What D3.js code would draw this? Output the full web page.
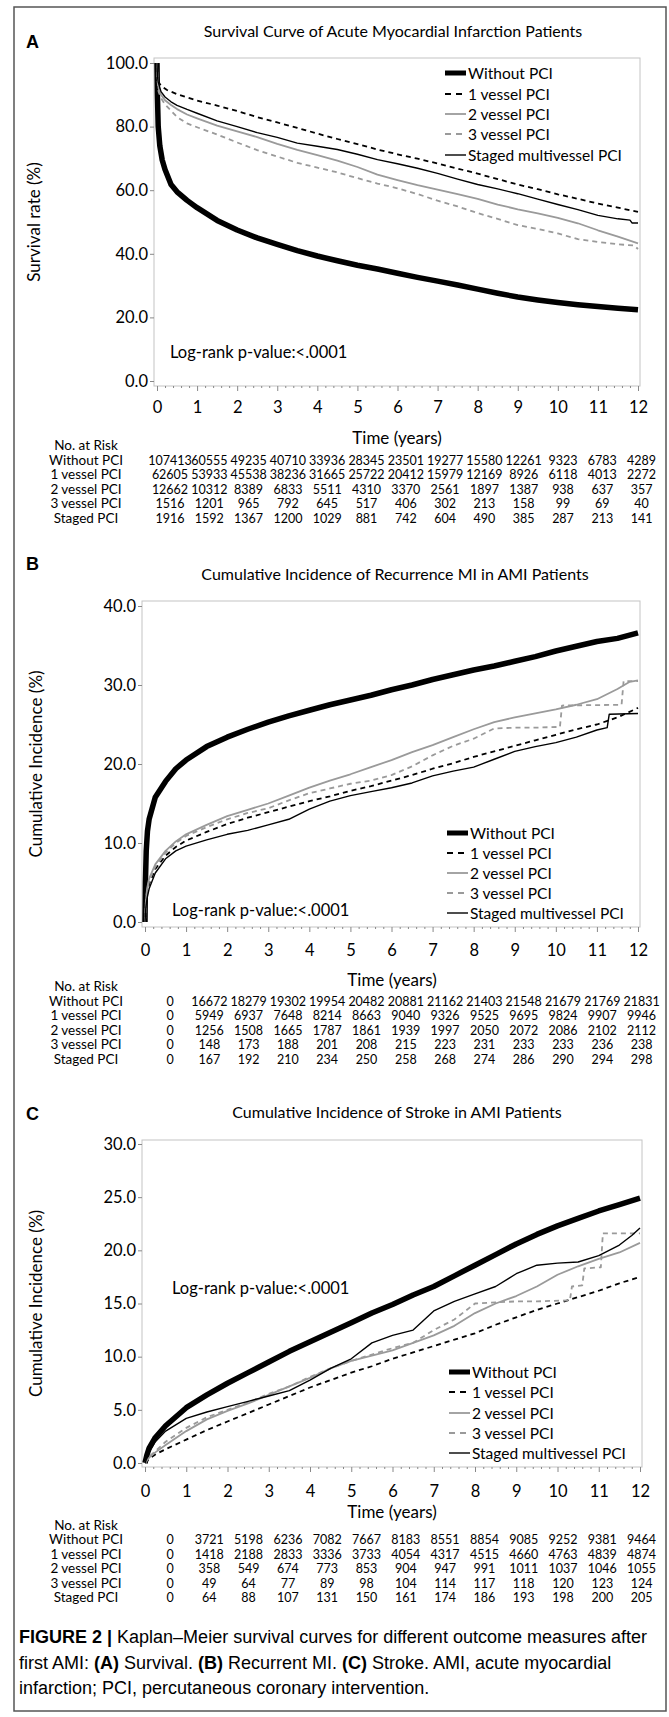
<!DOCTYPE html>
<html>
<head>
<meta charset="utf-8">
<script src="https://d3js.org/d3.v7.min.js"></script>
<style>
  body { margin: 0; background: #fff; }
  svg text { font-family: Lato, "Open Sans", sans-serif; fill: #000; }
</style>
</head>
<body>
<script>
// ---- data ----
const years = [0, 1, 2, 3, 4, 5, 6, 7, 8, 9, 10, 11, 12];
const seriesNames = ["Without PCI", "1 vessel PCI", "2 vessel PCI", "3 vessel PCI", "Staged multivessel PCI"];
const riskLabels = ["Without PCI", "1 vessel PCI", "2 vessel PCI", "3 vessel PCI", "Staged PCI"];

// Panel A: survival rate (%), [years, value]
const aWithout = [[0,100],[0.01,90],[0.03,80],[0.07,74],[0.13,69.5],[0.2,66.5],[0.35,61.8],[0.5,59.5],[0.75,56.8],[1,54.5],[1.5,50.5],[2,47.5],[2.5,45],[3,43],[3.5,41],[4,39.3],[4.5,37.8],[5,36.4],[5.5,35.2],[6,33.9],[6.5,32.6],[7,31.4],[7.5,30.2],[8,28.9],[8.5,27.6],[9,26.4],[9.5,25.5],[10,24.7],[10.5,24.0],[11,23.4],[11.5,22.9],[12,22.4]];
const aOne = [[0,100],[0.01,96],[0.04,94],[0.1,92.8],[0.25,91.5],[0.5,90.2],[1,88.2],[1.5,86.6],[2,84.9],[2.5,83.0],[3,81.3],[3.5,79.6],[4,77.8],[4.5,76.1],[5,74.5],[5.5,72.8],[6,71.3],[6.5,69.9],[7,68.4],[7.5,66.8],[8,65.2],[8.5,63.5],[9,61.8],[9.5,60.3],[10,58.7],[10.5,57.3],[11,55.8],[11.5,54.5],[12,53.2]];
const aTwo = [[0,100],[0.01,96],[0.04,92],[0.1,90],[0.2,88.3],[0.35,86.8],[0.5,85.5],[0.75,83.8],[1,82.6],[1.5,80.3],[2,78.5],[2.5,76.7],[3,74.6],[3.5,72.7],[4,71.0],[4.5,69.3],[5,67.3],[5.5,64.9],[6,63.2],[6.5,61.6],[7,60.2],[7.5,58.8],[8,57.3],[8.5,55.5],[9,54.0],[9.5,52.7],[10,51.3],[10.5,49.6],[11,47.4],[11.5,45.4],[12,43.3]];
const aThree = [[0,100],[0.01,95],[0.04,91],[0.1,89],[0.2,87],[0.35,85.0],[0.5,83.0],[0.75,81.0],[1,79.8],[1.5,77.5],[2,75.0],[2.5,72.6],[3,70.6],[3.5,68.6],[4,67.1],[4.5,65.6],[5,63.8],[5.5,62.1],[6,60.6],[6.5,58.8],[7,56.7],[7.5,54.9],[8,52.8],[8.5,51.0],[9,49.0],[9.5,47.8],[10,46.4],[10.5,44.6],[11,43.7],[11.5,43.0],[11.9,42.6],[12,41.5]];
const aStaged = [[0,100],[0.01,96],[0.03,94],[0.1,91],[0.2,89.3],[0.35,87.8],[0.5,86.7],[0.75,85.4],[1,84.2],[1.5,81.8],[2,80.0],[2.5,78.1],[3,76.6],[3.5,74.8],[4,73.8],[4.5,72.8],[5,71.3],[5.5,69.6],[6,68.3],[6.5,66.9],[7,65.3],[7.5,63.5],[8,61.8],[8.5,60.4],[9,58.9],[9.5,57.2],[10,55.5],[10.5,53.9],[11,52.1],[11.5,51.0],[11.8,50.6],[11.85,49.7],[12,49.7]];

// Panel B: cumulative incidence of recurrent MI (%)
const bWithout = [[0,0],[0.01,5],[0.03,9],[0.06,11.5],[0.1,13],[0.25,15.8],[0.5,17.8],[0.75,19.4],[1,20.5],[1.5,22.2],[2,23.4],[2.5,24.4],[3,25.3],[3.5,26.1],[4,26.8],[4.5,27.5],[5,28.1],[5.5,28.7],[6,29.4],[6.5,30.0],[7,30.7],[7.5,31.3],[8,31.9],[8.5,32.4],[9,33.0],[9.5,33.6],[10,34.3],[10.5,34.9],[11,35.5],[11.5,35.9],[12,36.6]];
const bOne = [[0,0],[0.02,2],[0.05,3.5],[0.1,4.8],[0.25,6.7],[0.5,8.4],[0.75,9.5],[1,10.3],[1.5,11.4],[2,12.4],[2.5,13.2],[3,13.9],[3.5,14.6],[4,15.3],[4.5,15.9],[5,16.6],[5.5,17.2],[6,17.9],[6.5,18.6],[7,19.4],[7.5,20.1],[8,20.9],[8.5,21.6],[9,22.3],[9.5,23.0],[10,23.7],[10.5,24.4],[11,25.0],[11.5,25.9],[12,27.1]];
const bTwo = [[0,0],[0.02,2.5],[0.05,4.2],[0.1,5.5],[0.25,7.3],[0.5,9.0],[0.75,10.2],[1,11.1],[1.5,12.3],[2,13.4],[2.5,14.2],[3,15.0],[3.5,16.0],[4,17.0],[4.5,17.9],[5,18.7],[5.5,19.6],[6,20.5],[6.5,21.5],[7,22.4],[7.5,23.4],[8,24.4],[8.5,25.3],[9,25.9],[9.5,26.4],[10,26.9],[10.5,27.5],[11,28.2],[11.5,29.5],[11.8,30.4],[12,30.6]];
const bThree = [[0,0],[0.02,2.3],[0.05,4],[0.1,5.2],[0.25,7.0],[0.5,8.8],[0.75,10.0],[1,10.9],[1.5,12.0],[2,13.0],[2.5,13.8],[3,14.4],[3.5,15.4],[4,16.3],[4.5,16.9],[5,17.5],[5.5,17.9],[6,18.6],[6.5,19.7],[7,21.1],[7.5,22.3],[8,23.2],[8.5,24.5],[9,24.6],[9.5,24.6],[10.1,24.7],[10.15,27.4],[11.6,27.5],[11.65,30.5],[12,30.5]];
const bStaged = [[0,0],[0.02,1.8],[0.05,3.0],[0.1,4.2],[0.25,6.2],[0.5,8.0],[0.75,9.0],[1,9.6],[1.5,10.4],[2,11.1],[2.5,11.6],[3,12.3],[3.5,13.0],[4,14.3],[4.5,15.3],[5,16.0],[5.5,16.5],[6,17.0],[6.5,17.6],[7,18.5],[7.5,19.1],[8,19.6],[8.5,20.6],[9,21.6],[9.5,22.2],[10,22.7],[10.5,23.4],[11,24.3],[11.25,24.6],[11.3,26.3],[12,26.4]];

// Panel C: cumulative incidence of stroke (%)
const cWithout = [[0,0],[0.05,0.8],[0.1,1.4],[0.25,2.4],[0.5,3.5],[1,5.2],[1.5,6.4],[2,7.5],[2.5,8.5],[3,9.5],[3.5,10.5],[4,11.4],[4.5,12.3],[5,13.2],[5.5,14.1],[6,14.9],[6.5,15.8],[7,16.6],[7.5,17.6],[8,18.6],[8.5,19.6],[9,20.6],[9.5,21.5],[10,22.3],[10.5,23.0],[11,23.7],[11.5,24.3],[12,24.9]];
const cOne = [[0,0],[0.1,0.4],[0.25,0.8],[0.5,1.3],[1,2.2],[1.5,3.1],[2,3.9],[2.5,4.7],[3,5.5],[3.5,6.3],[4,7.1],[4.5,7.8],[5,8.5],[5.5,9.1],[6,9.8],[6.5,10.4],[7,11.0],[7.5,11.6],[8,12.2],[8.5,13.0],[9,13.7],[9.5,14.4],[10,15.0],[10.5,15.6],[11,16.2],[11.5,16.9],[12,17.5]];
const cTwo = [[0,0],[0.1,0.5],[0.25,1.0],[0.5,1.7],[1,3.0],[1.5,4.1],[2,4.9],[2.5,5.6],[3,6.4],[3.5,7.2],[4,8.0],[4.5,8.9],[5,9.6],[5.5,10.1],[6,10.6],[6.5,11.3],[7,12.0],[7.5,12.9],[8,14.1],[8.5,15.0],[9,15.7],[9.5,16.6],[10,17.7],[10.5,18.5],[11,19.2],[11.5,19.8],[12,20.7]];
const cThree = [[0,0],[0.1,0.6],[0.25,1.1],[0.5,2.0],[1,3.3],[1.5,4.3],[2,5.0],[2.5,5.7],[3,6.5],[3.5,7.2],[4,8.1],[4.5,8.9],[5,9.6],[5.5,10.2],[6,10.8],[6.5,11.3],[7,12.5],[7.5,13.5],[8,15.0],[8.5,15.1],[9,15.2],[9.5,15.2],[10.3,15.3],[10.35,16.6],[10.6,16.7],[10.65,18.3],[11.05,18.4],[11.1,21.6],[12,21.6]];
const cStaged = [[0,0],[0.1,1.0],[0.25,2.0],[0.5,3.0],[1,4.2],[1.5,4.8],[2,5.3],[2.5,5.8],[3,6.3],[3.5,6.8],[4,7.8],[4.5,8.9],[5,9.8],[5.5,11.3],[6,12.0],[6.5,12.5],[7,14.3],[7.5,15.2],[8,15.9],[8.5,16.6],[9,17.8],[9.5,18.6],[10,18.8],[10.5,18.9],[11,19.5],[11.5,20.5],[11.8,21.4],[12,22.1]];

// numbers at risk (one row per group, one value per year)
const riskA = [
  [107413, 60555, 49235, 40710, 33936, 28345, 23501, 19277, 15580, 12261, 9323, 6783, 4289],
  [62605, 53933, 45538, 38236, 31665, 25722, 20412, 15979, 12169, 8926, 6118, 4013, 2272],
  [12662, 10312, 8389, 6833, 5511, 4310, 3370, 2561, 1897, 1387, 938, 637, 357],
  [1516, 1201, 965, 792, 645, 517, 406, 302, 213, 158, 99, 69, 40],
  [1916, 1592, 1367, 1200, 1029, 881, 742, 604, 490, 385, 287, 213, 141]
];
const riskB = [
  [0, 16672, 18279, 19302, 19954, 20482, 20881, 21162, 21403, 21548, 21679, 21769, 21831],
  [0, 5949, 6937, 7648, 8214, 8663, 9040, 9326, 9525, 9695, 9824, 9907, 9946],
  [0, 1256, 1508, 1665, 1787, 1861, 1939, 1997, 2050, 2072, 2086, 2102, 2112],
  [0, 148, 173, 188, 201, 208, 215, 223, 231, 233, 233, 236, 238],
  [0, 167, 192, 210, 234, 250, 258, 268, 274, 286, 290, 294, 298]
];
const riskC = [
  [0, 3721, 5198, 6236, 7082, 7667, 8183, 8551, 8854, 9085, 9252, 9381, 9464],
  [0, 1418, 2188, 2833, 3336, 3733, 4054, 4317, 4515, 4660, 4763, 4839, 4874],
  [0, 358, 549, 674, 773, 853, 904, 947, 991, 1011, 1037, 1046, 1055],
  [0, 49, 64, 77, 89, 98, 104, 114, 117, 118, 120, 123, 124],
  [0, 64, 88, 107, 131, 150, 161, 174, 186, 193, 198, 200, 205]
];

// ---- drawing ----
const lineStyles = [
  { stroke: "#000", width: 5.5, dash: null },
  { stroke: "#000", width: 1.8, dash: "5,4" },
  { stroke: "#9a9a9a", width: 1.8, dash: null },
  { stroke: "#9a9a9a", width: 1.8, dash: "5,4" },
  { stroke: "#000", width: 1.4, dash: null }
];

const svg = d3.select("body").append("svg")
  .attr("width", 669)
  .attr("height", 1717);

svg.append("rect")
  .attr("x", 14).attr("y", 7)
  .attr("width", 652).attr("height", 1704)
  .attr("fill", "none")
  .attr("stroke", "#555")
  .attr("stroke-width", 1.5);

// the at-risk columns sit on their own grid, same for all three panels
const riskX = d3.scaleLinear().domain([0, 12]).range([170, 641.6]);

function drawPanel(p) {
  const x = d3.scaleLinear().domain([0, 12]).range([p.x0, p.x1]);
  const y = d3.scaleLinear().domain([0, p.yMax]).range([p.yBottom, p.yTop]);
  const g = svg.append("g");

  g.append("text")
    .attr("x", 26).attr("y", p.letterY)
    .style("font-family", "'Liberation Sans', Arial, sans-serif")
    .style("font-weight", "bold")
    .style("font-size", "18px")
    .text(p.letter);

  g.append("text")
    .attr("x", p.titleX).attr("y", p.titleY)
    .attr("text-anchor", "middle")
    .style("font-size", "16px")
    .text(p.title);

  // frame
  g.append("rect")
    .attr("x", p.frameL).attr("y", p.frameT)
    .attr("width", p.frameR - p.frameL).attr("height", p.frameB - p.frameT)
    .attr("fill", "none")
    .attr("stroke", "#c4c4c4");

  // x axis, major + minor ticks
  const xAxis = g.append("g")
    .attr("transform", `translate(0,${p.frameB})`)
    .call(d3.axisBottom(x).tickValues(years).tickSize(5).tickPadding(p.tickPad).tickFormat(d3.format("d")));
  const minor = d3.range(0, 12.001, 0.2).filter(v => Math.abs(v - Math.round(v)) > 0.01);
  g.append("g")
    .attr("transform", `translate(0,${p.frameB})`)
    .call(d3.axisBottom(x).tickValues(minor).tickSize(2).tickFormat(""))
    .call(a => a.select(".domain").remove())
    .selectAll("line").attr("stroke", "#888");
  xAxis.select(".domain").remove();
  xAxis.selectAll("line").attr("stroke", "#888");
  xAxis.selectAll("text").style("font-size", "16.5px").style("font-family", "Lato, sans-serif").attr("fill", "#000");

  const yAxis = g.append("g")
    .attr("transform", `translate(${p.frameL},0)`)
    .call(d3.axisLeft(y).tickValues(p.yTicks).tickSize(4).tickPadding(2).tickFormat(d3.format(".1f")));
  yAxis.select(".domain").remove();
  yAxis.selectAll("line").attr("stroke", "#888");
  yAxis.selectAll("text").style("font-size", "16.5px").style("font-family", "Lato, sans-serif").attr("fill", "#000");

  // y title
  g.append("text")
    .attr("transform", `translate(${p.yLabelX},${(p.yTop + p.yBottom) / 2}) rotate(-90)`)
    .attr("text-anchor", "middle")
    .style("font-size", "17px")
    .text(p.yLabel);

  // curves
  const clipId = "clip" + p.letter;
  g.append("clipPath").attr("id", clipId)
    .append("rect")
    .attr("x", p.frameL).attr("y", p.frameT - 4)
    .attr("width", p.frameR - p.frameL + 2).attr("height", p.frameB - p.frameT + 4);

  const line = d3.line().x(d => x(d[0])).y(d => y(d[1]));
  g.append("g").attr("clip-path", `url(#${clipId})`)
    .selectAll("path")
    .data(p.series)
    .join("path")
    .attr("d", d => line(d))
    .attr("fill", "none")
    .attr("stroke", (d, i) => lineStyles[i].stroke)
    .attr("stroke-width", (d, i) => lineStyles[i].width)
    .attr("stroke-dasharray", (d, i) => lineStyles[i].dash)
    .attr("stroke-linejoin", "round");

  // legend
  const leg = g.append("g").selectAll("g")
    .data(seriesNames)
    .join("g")
    .attr("transform", (d, i) => `translate(0,${p.legendY[i]})`);
  leg.append("line")
    .attr("x1", p.legX0).attr("x2", p.legX0 + 21)
    .attr("stroke", (d, i) => lineStyles[i].stroke)
    .attr("stroke-width", (d, i) => Math.min(lineStyles[i].width, 5))
    .attr("stroke-dasharray", (d, i) => lineStyles[i].dash ? "6,5" : null);
  leg.append("text")
    .attr("x", p.legX0 + 23).attr("y", 5.5)
    .style("font-size", "15.5px")
    .text(d => d);

  g.append("text")
    .attr("x", p.logX).attr("y", p.logY)
    .style("font-size", "16.5px")
    .text("Log-rank p-value:<.0001");

  g.append("text")
    .attr("x", p.timeX).attr("y", p.timeY)
    .attr("text-anchor", "middle")
    .style("font-size", "17px")
    .text("Time (years)");

  // at-risk table
  g.append("text")
    .attr("x", 86).attr("y", p.riskY - 14.5)
    .attr("text-anchor", "middle")
    .style("font-size", "13.5px")
    .text("No. at Risk");
  const rows = g.append("g").selectAll("g")
    .data(p.risk)
    .join("g")
    .attr("transform", (d, i) => `translate(0,${p.riskY + i * 14.5})`);
  rows.append("text")
    .attr("x", 86)
    .attr("text-anchor", "middle")
    .style("font-size", "13.5px")
    .text((d, i) => riskLabels[i]);
  rows.selectAll("text.n")
    .data(d => d)
    .join("text")
    .attr("class", "n")
    .attr("x", (d, i) => riskX(years[i]))
    .attr("text-anchor", "middle")
    .style("font-size", "12.5px")
    .text(d => d);
}

drawPanel({
  letter: "A", letterY: 48,
  title: "Survival Curve of Acute Myocardial Infarction Patients", titleX: 393, titleY: 37,
  x0: 157, x1: 638, frameL: 154, frameR: 640, frameT: 58, frameB: 386,
  yTop: 63, yBottom: 381, yMax: 100, yTicks: [0, 20, 40, 60, 80, 100], tickPad: 10,
  yLabel: "Survival rate (%)", yLabelX: 40,
  series: [aWithout, aOne, aTwo, aThree, aStaged],
  legendY: [73, 94, 114, 134, 155], legX0: 445,
  logX: 170, logY: 358,
  timeX: 397, timeY: 444,
  risk: riskA, riskY: 464.5
});

drawPanel({
  letter: "B", letterY: 570,
  title: "Cumulative Incidence of Recurrence MI in AMI Patients", titleX: 395, titleY: 580,
  x0: 145, x1: 638, frameL: 142, frameR: 640, frameT: 601, frameB: 927,
  yTop: 606, yBottom: 922, yMax: 40, yTicks: [0, 10, 20, 30, 40], tickPad: 12,
  yLabel: "Cumulative Incidence (%)", yLabelX: 42,
  series: [bWithout, bOne, bTwo, bThree, bStaged],
  legendY: [833, 853, 873, 893, 913], legX0: 447,
  logX: 172, logY: 916,
  timeX: 392, timeY: 986,
  risk: riskB, riskY: 1005.5
});

drawPanel({
  letter: "C", letterY: 1120,
  title: "Cumulative Incidence of Stroke in AMI Patients", titleX: 397, titleY: 1118,
  x0: 145, x1: 640, frameL: 142, frameR: 642, frameT: 1140, frameB: 1467,
  yTop: 1144, yBottom: 1463, yMax: 30, yTicks: [0, 5, 10, 15, 20, 25, 30], tickPad: 13,
  yLabel: "Cumulative Incidence (%)", yLabelX: 42,
  series: [cWithout, cOne, cTwo, cThree, cStaged],
  legendY: [1372, 1392, 1413, 1433, 1453], legX0: 449,
  logX: 172, logY: 1294,
  timeX: 392, timeY: 1518,
  risk: riskC, riskY: 1544
});

// caption
const caption = svg.append("text")
  .attr("x", 19).attr("y", 1643)
  .style("font-family", "'Liberation Sans', Arial, sans-serif")
  .style("font-size", "18px")
  .attr("fill", "#231f20");
const capLines = [
  [["FIGURE 2 | ", true], ["Kaplan\u2013Meier survival curves for different outcome measures after", false]],
  [["first AMI: ", false], ["(A)", true], [" Survival. ", false], ["(B)", true], [" Recurrent MI. ", false], ["(C)", true], [" Stroke. AMI, acute myocardial", false]],
  [["infarction; PCI, percutaneous coronary intervention.", false]]
];
capLines.forEach((parts, li) => {
  parts.forEach((part, pi) => {
    const t = caption.append("tspan")
      .style("font-weight", part[1] ? "bold" : "normal")
      .style("font-family", "'Liberation Sans', Arial, sans-serif")
      .text(part[0]);
    if (pi === 0) t.attr("x", 19).attr("y", 1643 + li * 25.5);
  });
});
</script>
</body>
</html>
